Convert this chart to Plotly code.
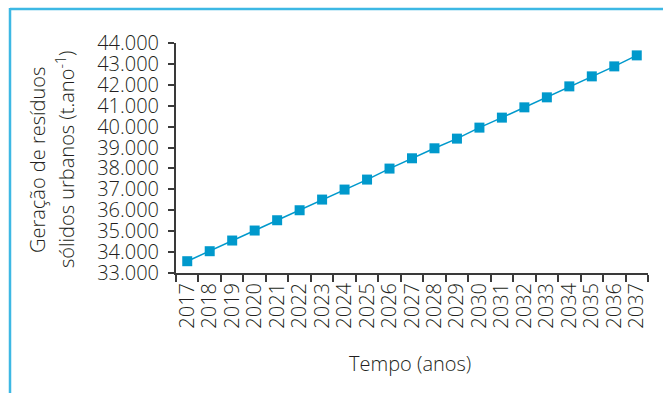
import plotly.graph_objects as go

anos = [str(a) for a in range(2017, 2038)]
geracao = [33564, 34042, 34553, 35031, 35523, 36001, 36512, 36990, 37468, 37994,
           38486, 38964, 39427, 39953, 40431, 40923, 41401, 41926, 42404, 42882, 43408]
y_ticks = list(range(33000, 45000, 1000))
y_tick_labels = [f"{v:,}".replace(",", ".") for v in y_ticks]

FONT = "Open Sans"
TXT = "#231f20"
BLUE = "#0099cc"
FRAME = "#3db8e4"
FS = 20

fig = go.Figure()
fig.add_trace(go.Scatter(
    x=anos, y=geracao, mode="lines+markers",
    line=dict(color=BLUE, width=1.5),
    marker=dict(symbol="square", size=10, color=BLUE),
    showlegend=False, cliponaxis=False,
))

W, H = 663, 393
L, R, T, B = 176, 15, 43, 120
pw, ph = W - L - R, H - T - B

def px(x):
    return (x - L) / pw

def py(y):
    return (H - B - y) / ph

tf = dict(family=FONT, size=FS, color=TXT, weight=300)

fig.update_layout(
    width=W, height=H,
    margin=dict(l=L, r=R, t=T, b=B),
    paper_bgcolor="white", plot_bgcolor="white",
    font=tf,
    xaxis=dict(
        type="category", range=[-0.5, 20.5],
        tickmode="array", tickvals=anos, ticktext=anos,
        tickson="boundaries", ticks="outside", ticklen=7, tickwidth=1.5, tickcolor="#3a3a3a",
        tickangle=-90, showline=True, linecolor="#3a3a3a", linewidth=2,
        showgrid=False, zeroline=False, tickfont=tf,
    ),
    yaxis=dict(
        range=[33000, 44000], tickvals=y_ticks, ticktext=y_tick_labels,
        ticks="outside", ticklen=6, tickwidth=1.5, tickcolor="#3a3a3a",
        showline=True, linecolor="#3a3a3a", linewidth=2,
        showgrid=False, zeroline=False, ticklabelstandoff=5, tickfont=tf,
    ),
    shapes=[
        dict(type="line", xref="paper", yref="paper", x0=px(10), x1=px(663), y0=py(9), y1=py(9),
             line=dict(color=FRAME, width=2.5)),
        dict(type="line", xref="paper", yref="paper", x0=px(10), x1=px(10), y0=py(8), y1=py(393),
             line=dict(color=FRAME, width=2.5)),
    ],
    annotations=[
        dict(text="Geração de resíduos", xref="paper", yref="paper", x=px(37), y=py(160),
             textangle=-90, showarrow=False, xanchor="center", yanchor="middle", font=tf),
        dict(text="sólidos urbanos (t.ano<sup>-1</sup>)", xref="paper", yref="paper", x=px(65), y=py(160),
             textangle=-90, showarrow=False, xanchor="center", yanchor="middle", font=tf),
        dict(text="Tempo (anos)", xref="paper", yref="paper", x=px(410), y=py(363),
             showarrow=False, xanchor="center", yanchor="middle", font=tf),
    ],
)

fig.write_html("out.html", config={"displayModeBar": False},
               post_script="document.body.style.margin='0';")
